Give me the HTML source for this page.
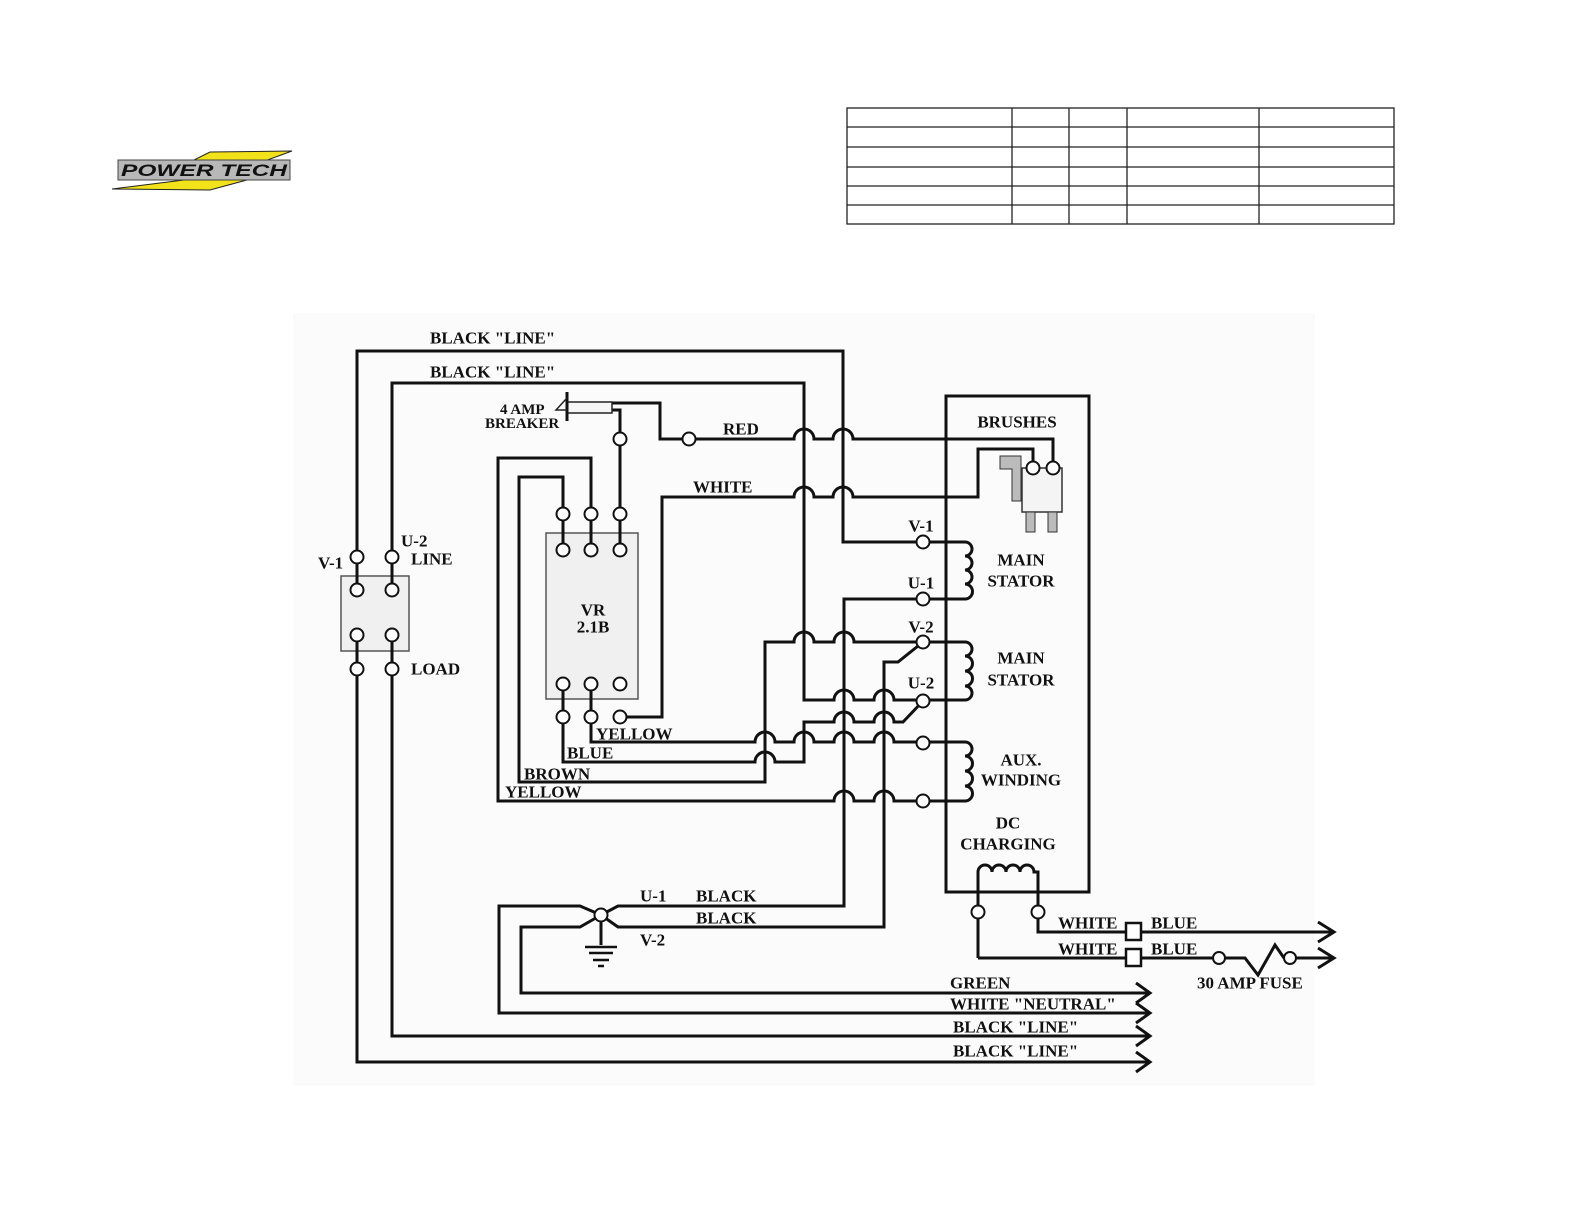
<!DOCTYPE html>
<html><head><meta charset="utf-8"><style>
html,body{margin:0;padding:0;background:#fff;}
svg{display:block;}
text{font-family:"Liberation Serif",serif;font-weight:bold;font-size:17px;fill:#111;}
</style></head><body>
<svg width="1584" height="1224" viewBox="0 0 1584 1224" xmlns="http://www.w3.org/2000/svg">
<rect x="0" y="0" width="1584" height="1224" fill="#fff"/>
<!-- logo -->
<g>
<path d="M190,162 L210,152 L292,151 L262,162 Z" fill="#f2e21a" stroke="#222" stroke-width="1"/>
<path d="M112,189 L200,178 L258,177 L210,190 Z" fill="#f2e21a" stroke="#222" stroke-width="1"/>
<rect x="118" y="160" width="172" height="20" fill="#b8b8b8" stroke="#444" stroke-width="1"/>
<text x="121" y="176" style="font-family:'Liberation Sans',sans-serif;font-style:italic;font-weight:bold;font-size:17px;fill:#111;" textLength="166" lengthAdjust="spacingAndGlyphs">POWER TECH</text>
</g>
<!-- header table -->
<g stroke="#222" stroke-width="1.3" fill="none">
<rect x="847" y="108" width="547" height="116"/>
<line x1="847" y1="127" x2="1394" y2="127"/>
<line x1="847" y1="147" x2="1394" y2="147"/>
<line x1="847" y1="167" x2="1394" y2="167"/>
<line x1="847" y1="186" x2="1394" y2="186"/>
<line x1="847" y1="205" x2="1394" y2="205"/>
<line x1="1012" y1="108" x2="1012" y2="224"/>
<line x1="1069" y1="108" x2="1069" y2="224"/>
<line x1="1127" y1="108" x2="1127" y2="224"/>
<line x1="1259" y1="108" x2="1259" y2="224"/>
</g>
<rect x="293" y="313" width="1022" height="773" fill="#fbfbfb"/>
<!-- boxes -->
<rect x="341" y="576" width="68" height="75" fill="#f0f0f0" stroke="#555" stroke-width="1.5"/>
<rect x="546" y="533" width="92" height="166" fill="#f0f0f0" stroke="#555" stroke-width="1.5"/>
<rect x="946" y="396" width="143" height="496" fill="none" stroke="#111" stroke-width="3"/>
<!-- brush -->
<rect x="1022" y="468" width="40" height="44" fill="#f4f4f4" stroke="#333" stroke-width="1.5"/>
<path d="M1000,456 L1021,456 L1021,501 L1012,501 L1012,469 L1000,469 Z" fill="#bbb" stroke="#333" stroke-width="1"/>
<rect x="1026" y="512" width="9" height="20" fill="#bbb" stroke="#333" stroke-width="1"/>
<rect x="1048" y="512" width="9" height="20" fill="#bbb" stroke="#333" stroke-width="1"/>
<g fill="none" stroke="#111" stroke-width="3" stroke-linejoin="miter">
<path d="M357,590 L357,351 L843,351 L843,542 L965,542"/>
<path d="M357,635 L357,1062 L1150,1062"/>
<path d="M392,590 L392,383 L804,383 L804,700 L834,700 a10,10 0 0 1 20,0 L874,700 a10,10 0 0 1 20,0 L965,700"/>
<path d="M392,635 L392,1036 L1150,1036"/>
<path d="M612,403 L660,403 L660,439 L794,439 a10,10 0 0 1 20,0 L833,439 a10,10 0 0 1 20,0 L1053,439 L1053,468"/>
<path d="M612,410 L620,410 L620,550"/>
<path d="M620,717 L662,717 L662,497 L794,497 a10,10 0 0 1 20,0 L833,497 a10,10 0 0 1 20,0 L978,497 L978,449 L1033,449 L1033,468"/>
<path d="M563,550 L563,477 L519,477 L519,782 L765,782 L765,642 L794,642 a10,10 0 0 1 20,0 L834,642 a10,10 0 0 1 20,0 L965,642"/>
<path d="M591,550 L591,458 L498,458 L498,801 L834,801 a10,10 0 0 1 20,0 L874,801 a10,10 0 0 1 20,0 L965,801"/>
<path d="M591,684 L591,742 L755,742 a10,10 0 0 1 20,0 L794,742 a10,10 0 0 1 20,0 L834,742 a10,10 0 0 1 20,0 L874,742 a10,10 0 0 1 20,0 L965,742"/>
<path d="M563,684 L563,762 L755,762 a10,10 0 0 1 20,0 L804,762 L804,722 L834,722 a10,10 0 0 1 20,0 L874,722 a10,10 0 0 1 20,0 L903,722 L923,701"/>
<path d="M965,599 L844,599 L844,906 L618,906 L601,915"/>
<path d="M923,642 L898,662 L884,662 L884,927 L618,927 L601,915"/>
<path d="M601,915 L580,906 L499,906 L499,1013 L1150,1013"/>
<path d="M601,915 L580,927 L521,927 L521,993 L1150,993"/>
<path d="M601,915 L601,945"/>
<path d="M965,542 a7,7 0 0 1 0,14 a7,7 0 0 1 0,14 a7,7 0 0 1 0,14 a7.5,7.5 0 0 1 0,15"/>
<path d="M965,642 a7,7 0 0 1 0,14 a7,7 0 0 1 0,15 a7,7 0 0 1 0,15 a7,7 0 0 1 0,14"/>
<path d="M965,742 a7,7 0 0 1 0,14 a7,7 0 0 1 0,15 a7,7 0 0 1 0,15 a7,7 0 0 1 0,15"/>
<path d="M978,958 L978,872 a7,7 0 0 1 14,0 a7,7 0 0 1 14,0 a7,7 0 0 1 14,0 a7,7 0 0 1 14,0 L1038,872 L1038,932 L1126,932"/>
<path d="M978,958 L1126,958"/>
<path d="M1141,932 L1334,932"/>
<path d="M1141,958 L1213,958"/>
<path d="M1225,958 L1245,958 L1258,975 L1275,945 L1284,958"/>
<path d="M1296,958 L1334,958"/>
<path d="M1318,922 L1334,932 L1318,942"/>
<path d="M1318,948 L1334,958 L1318,968"/>
<path d="M1136,983 L1150,993 L1136,1003"/>
<path d="M1136,1003 L1150,1013 L1136,1023"/>
<path d="M1136,1026 L1150,1036 L1136,1046"/>
<path d="M1136,1052 L1150,1062 L1136,1072"/>
</g>
<g stroke="#111" stroke-width="2.5">
<line x1="585" y1="947" x2="617" y2="947"/>
<line x1="589" y1="953" x2="613" y2="953"/>
<line x1="593" y1="960" x2="609" y2="960"/>
<line x1="598" y1="966" x2="604" y2="966"/>
</g>
<rect x="567" y="402" width="45" height="11" fill="#f6f6f6" stroke="#222" stroke-width="1.5"/>
<line x1="567" y1="392" x2="567" y2="421" stroke="#111" stroke-width="3"/>
<path d="M567,398 L556,410 L567,410" fill="none" stroke="#222" stroke-width="1.5"/>
<rect x="1126" y="923" width="15" height="17" fill="#fff" stroke="#111" stroke-width="2.5"/>
<rect x="1126" y="949" width="15" height="17" fill="#fff" stroke="#111" stroke-width="2.5"/>
<g fill="#fff" stroke="#111" stroke-width="2">
<circle cx="357" cy="557" r="6.5"/><circle cx="392" cy="557" r="6.5"/>
<circle cx="357" cy="590" r="6.5"/><circle cx="392" cy="590" r="6.5"/>
<circle cx="357" cy="635" r="6.5"/><circle cx="392" cy="635" r="6.5"/>
<circle cx="357" cy="669" r="6.5"/><circle cx="392" cy="669" r="6.5"/>
<circle cx="620" cy="439" r="6.5"/><circle cx="689" cy="439" r="6.5"/>
<circle cx="563" cy="514" r="6.5"/><circle cx="591" cy="514" r="6.5"/><circle cx="620" cy="514" r="6.5"/>
<circle cx="563" cy="550" r="6.5"/><circle cx="591" cy="550" r="6.5"/><circle cx="620" cy="550" r="6.5"/>
<circle cx="563" cy="684" r="6.5"/><circle cx="591" cy="684" r="6.5"/><circle cx="620" cy="684" r="6.5"/>
<circle cx="563" cy="717" r="6.5"/><circle cx="591" cy="717" r="6.5"/><circle cx="620" cy="717" r="6.5"/>
<circle cx="923" cy="542" r="6.5"/><circle cx="923" cy="599" r="6.5"/>
<circle cx="923" cy="642" r="6.5"/><circle cx="923" cy="701" r="6.5"/>
<circle cx="923" cy="743" r="6.5"/><circle cx="923" cy="801" r="6.5"/>
<circle cx="1033" cy="468" r="6.5"/><circle cx="1053" cy="468" r="6.5"/>
<circle cx="601" cy="915" r="6.5"/>
<circle cx="978" cy="912" r="6.5"/><circle cx="1038" cy="912" r="6.5"/>
<circle cx="1219" cy="958" r="6"/><circle cx="1290" cy="958" r="6"/>
</g>
<g dominant-baseline="central">
<text x="430" y="338">BLACK "LINE"</text>
<text x="430" y="372">BLACK "LINE"</text>
<text x="500" y="410" style="font-size:15px">4 AMP</text>
<text x="485" y="424" style="font-size:15px">BREAKER</text>
<text x="723" y="429">RED</text>
<text x="693" y="487">WHITE</text>
<text x="593" y="610" text-anchor="middle">VR</text>
<text x="593" y="627" text-anchor="middle">2.1B</text>
<text x="318" y="563">V-1</text>
<text x="401" y="541">U-2</text>
<text x="411" y="559">LINE</text>
<text x="411" y="669">LOAD</text>
<text x="596" y="734">YELLOW</text>
<text x="567" y="753">BLUE</text>
<text x="524" y="774">BROWN</text>
<text x="505" y="792">YELLOW</text>
<text x="921" y="526" text-anchor="middle">V-1</text>
<text x="921" y="583" text-anchor="middle">U-1</text>
<text x="921" y="627" text-anchor="middle">V-2</text>
<text x="921" y="683" text-anchor="middle">U-2</text>
<text x="1017" y="422" text-anchor="middle">BRUSHES</text>
<text x="1021" y="560" text-anchor="middle">MAIN</text>
<text x="1021" y="581" text-anchor="middle">STATOR</text>
<text x="1021" y="658" text-anchor="middle">MAIN</text>
<text x="1021" y="680" text-anchor="middle">STATOR</text>
<text x="1021" y="760" text-anchor="middle">AUX.</text>
<text x="1021" y="780" text-anchor="middle">WINDING</text>
<text x="1008" y="823" text-anchor="middle">DC</text>
<text x="1008" y="844" text-anchor="middle">CHARGING</text>
<text x="640" y="896">U-1</text>
<text x="696" y="896">BLACK</text>
<text x="696" y="918">BLACK</text>
<text x="640" y="940">V-2</text>
<text x="1058" y="923">WHITE</text>
<text x="1151" y="923">BLUE</text>
<text x="1058" y="949">WHITE</text>
<text x="1151" y="949">BLUE</text>
<text x="1197" y="983">30 AMP FUSE</text>
<text x="950" y="983">GREEN</text>
<text x="950" y="1004">WHITE "NEUTRAL"</text>
<text x="953" y="1027">BLACK "LINE"</text>
<text x="953" y="1051">BLACK "LINE"</text>
</g>
</svg>
</body></html>
